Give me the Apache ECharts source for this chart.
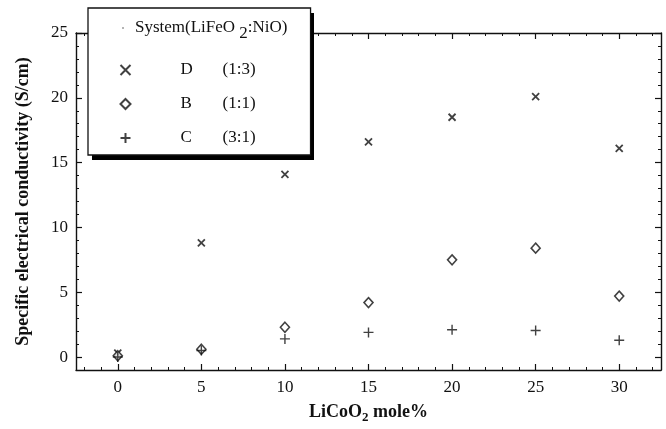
<!DOCTYPE html>
<html>
<head>
<meta charset="utf-8">
<script src="https://cdn.jsdelivr.net/npm/echarts@6/dist/echarts.min.js"></script>
<style>
html,body{margin:0;padding:0;background:#fff;}
#c{width:666px;height:429px;}
</style>
</head>
<body>
<div id="c"></div>
<script>
// ---- data ----
var xValues = [0, 5, 10, 15, 20, 25, 30];
var seriesD = [0.3, 8.8, 14.1, 16.6, 18.5, 20.1, 16.1];
var seriesB = [0.1, 0.6, 2.3, 4.2, 7.5, 8.4, 4.7];
var seriesC = [0.0, 0.5, 1.4, 1.9, 2.1, 2.05, 1.3];
var seriesNames = ['D', 'B', 'C'];
var seriesRatios = ['(1:3)', '(1:1)', '(3:1)'];
var xRange = [-2.5, 32.5];
var yRange = [-1, 25];
var xMajorTicks = [0, 5, 10, 15, 20, 25, 30];
var yMajorTicks = [0, 5, 10, 15, 20, 25];
var xMinorTicks = [-2, -1, 1, 2, 3, 4, 6, 7, 8, 9, 11, 12, 13, 14, 16, 17, 18, 19, 21, 22, 23, 24, 26, 27, 28, 29, 31, 32];
var yMinorTicks = [1, 2, 3, 4, 6, 7, 8, 9, 11, 12, 13, 14, 16, 17, 18, 19, 21, 22, 23, 24];

function pairs(ys) { return xValues.map(function (x, i) { return [x, ys[i]]; }); }

var FONT = '"Liberation Serif", "Times New Roman", serif';
var INK = '#111';

var chart = echarts.init(document.getElementById('c'), null, {renderer: 'canvas'});

function baseAxis(range, pos) {
  return {
    type: 'value', position: pos, min: range[0], max: range[1],
    axisLine: {show: true, onZero: false, lineStyle: {color: INK, width: 1.4}},
    splitLine: {show: false},
    minorTick: {show: false},
    axisLabel: {show: false}
  };
}
function majorAxis(range, pos, ticks) {
  var a = baseAxis(range, pos);
  a.axisTick = {show: true, inside: true, length: 6, customValues: ticks, lineStyle: {color: INK, width: 1.2}};
  return a;
}
function minorAxis(range, pos, ticks) {
  var a = baseAxis(range, pos);
  a.axisLine = {show: false, onZero: false};
  a.axisTick = {show: true, inside: true, length: 3, customValues: ticks, lineStyle: {color: INK, width: 1}};
  return a;
}

var xMain = majorAxis(xRange, 'bottom', xMajorTicks);
xMain.axisLabel = {show: true, margin: 9, fontFamily: FONT, fontSize: 17, color: INK, customValues: xMajorTicks};
xMain.name = '{a|LiCoO}{s|2}{a| mole%}';
xMain.nameLocation = 'middle';
xMain.nameGap = 30;
xMain.nameTextStyle = {
  rich: {
    a: {fontFamily: FONT, fontSize: 18, fontWeight: 'bold', color: INK, verticalAlign: 'middle', lineHeight: 24},
    s: {fontFamily: FONT, fontSize: 13, fontWeight: 'bold', color: INK, verticalAlign: 'bottom', lineHeight: 24}
  }
};

var yMain = majorAxis(yRange, 'left', yMajorTicks);
yMain.axisLabel = {show: true, margin: 8, fontFamily: FONT, fontSize: 17, color: INK, customValues: yMajorTicks};
yMain.name = 'Specific electrical conductivity (S/cm)';
yMain.nameLocation = 'middle';
yMain.nameGap = 44;
yMain.nameTextStyle = {fontFamily: FONT, fontSize: 18, fontWeight: 'bold', color: INK};

var symbolCross = 'path://M0,0L10,10M10,0L0,10';
var symbolPlus = 'path://M5,0L5,10M0,5L10,5';

var seriesList = [
  {name: seriesNames[0], data: pairs(seriesD), symbol: symbolCross, symbolSize: 7,
   itemStyle: {color: 'none', borderColor: INK, borderWidth: 1.8}},
  {name: seriesNames[1], data: pairs(seriesB), symbol: 'diamond', symbolSize: [9, 10],
   itemStyle: {color: '#fff', borderColor: INK, borderWidth: 1.6}},
  {name: seriesNames[2], data: pairs(seriesC), symbol: symbolPlus, symbolSize: 10,
   itemStyle: {color: 'none', borderColor: INK, borderWidth: 1.4}}
].map(function (s) {
  s.type = 'scatter'; s.xAxisIndex = 0; s.yAxisIndex = 0; s.z = 3;
  s.emphasis = {disabled: true};
  return s;
});

var option = {
  animation: false,
  backgroundColor: '#fff',
  grid: {left: 76, right: 5, top: 33, bottom: 56, containLabel: false},
  xAxis: [xMain, minorAxis(xRange, 'bottom', xMinorTicks),
          majorAxis(xRange, 'top', xMajorTicks), minorAxis(xRange, 'top', xMinorTicks)],
  yAxis: [yMain, minorAxis(yRange, 'left', yMinorTicks),
          majorAxis(yRange, 'right', yMajorTicks), minorAxis(yRange, 'right', yMinorTicks)],
  legend: {
    orient: 'vertical', left: 88, top: 8, z: 10,
    padding: [52, 55, 7, 30],
    itemGap: 14, itemWidth: 10, itemHeight: 10,
    backgroundColor: '#fff', borderColor: INK, borderWidth: 1.3,
    data: seriesNames,
    selectedMode: false,
    formatter: function (name) {
      var i = seriesNames.indexOf(name);
      return '{g| }{n|' + name + '}{r|' + seriesRatios[i] + '}';
    },
    textStyle: {
      fontFamily: FONT, fontSize: 17, color: INK, lineHeight: 20,
      rich: {
        g: {width: 45, fontFamily: FONT, fontSize: 17},
        n: {width: 42, fontFamily: FONT, fontSize: 17, color: INK},
        r: {fontFamily: FONT, fontSize: 17, color: INK}
      }
    }
  },
  graphic: [
    {type: 'rect', z: 5, shape: {x: 92, y: 13, width: 222, height: 147}, style: {fill: '#000'}},
    {type: 'circle', z: 100, shape: {cx: 123, cy: 28, r: 0.8}, style: {fill: '#555'}},
    {type: 'text', z: 100, left: 135, top: 19,
     style: {
       text: '{a|System(LiFeO }{s|2}{a|:NiO)}',
       rich: {
         a: {fontFamily: FONT, fontSize: 17, fill: INK, verticalAlign: 'middle', lineHeight: 24},
         s: {fontFamily: FONT, fontSize: 17, fill: INK, verticalAlign: 'bottom', lineHeight: 30}
       }
     }}
  ],
  series: seriesList
};
chart.setOption(option);
</script>
</body>
</html>
